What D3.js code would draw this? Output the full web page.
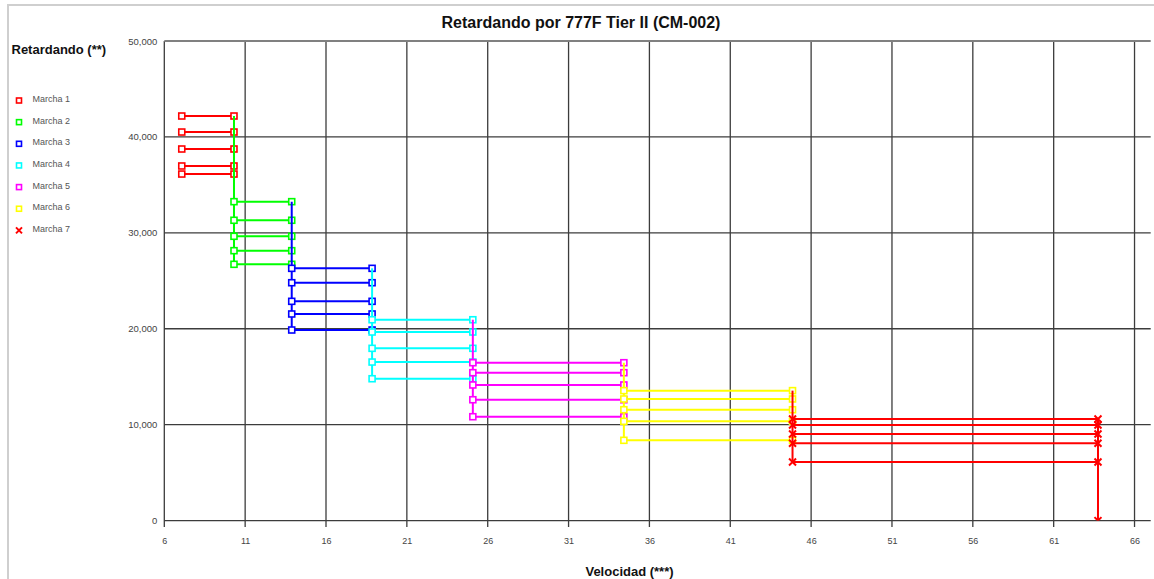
<!DOCTYPE html>
<html>
<head>
<meta charset="utf-8">
<script src="https://cdn.jsdelivr.net/npm/d3@7"></script>
<style>
  html, body { margin: 0; padding: 0; background: #fff; }
  svg { display: block; font-family: "Liberation Sans", Arial, sans-serif; }
</style>
</head>
<body>
<svg id="chart" width="1154" height="579"></svg>
<script>
// Gear names and their colours
const gearNames = ["Marcha 1", "Marcha 2", "Marcha 3", "Marcha 4", "Marcha 5", "Marcha 6", "Marcha 7"];
const gearColors = ["#ff0000", "#00ff00", "#0000ff", "#00ffff", "#ff00ff", "#ffff00", "#ff0000"];
const gearMarkers = ["square", "square", "square", "square", "square", "square", "cross"];

// Speed range covered by each gear (km/h)
const speedStart = [7.08, 10.31, 13.88, 18.85, 25.08, 34.42, 44.85];
const speedEnd   = [10.31, 13.88, 18.85, 25.08, 34.42, 44.85, 63.74];

// Retarding force levels for each gear (kg)
const marcha1 = [42180, 40510, 38740, 36970, 36130];
const marcha2 = [33250, 31310, 29640, 28140, 26720];
const marcha3 = [26300, 24800, 22860, 21540, 19870];
const marcha4 = [20940, 19660, 17960, 16530, 14790];
const marcha5 = [16460, 15420, 14140, 12600, 10830];
const marcha6 = [13550, 12680, 11560, 10350, 8370];
const marcha7 = [10590, 9970, 9030, 8060, 6110];
const finalDrop = 0; // last gear falls to zero at top speed

// Axis ticks
const xTicks = [6, 11, 16, 21, 26, 31, 36, 41, 46, 51, 56, 61, 66];
const yTicks = [0, 10000, 20000, 30000, 40000, 50000];

const levels = [marcha1, marcha2, marcha3, marcha4, marcha5, marcha6, marcha7];

const svg = d3.select("#chart");

// frame of the chart
svg.append("path")
  .attr("d", "M8,579 L8,5 L1154,5")
  .attr("fill", "none")
  .attr("stroke", "#cfcfcf")
  .attr("stroke-width", 2);

const x = d3.scaleLinear().domain([6, 67]).range([164.3, 1150.7]);
const y = d3.scaleLinear().domain([0, 50000]).range([520.6, 41]);

// grid
const grid = svg.append("g").attr("stroke", "#3c3c3c").attr("stroke-width", 1.3);
grid.selectAll("line.v").data(xTicks).join("line")
  .attr("class", "v")
  .attr("x1", d => x(d)).attr("x2", d => x(d))
  .attr("y1", y(50000)).attr("y2", y(0) + 6.5);
grid.selectAll("line.h").data(yTicks).join("line")
  .attr("class", "h")
  .attr("x1", x(6)).attr("x2", x(67))
  .attr("y1", d => y(d)).attr("y2", d => y(d))
  .attr("stroke", d => d === 50000 ? "#808080" : null)
  .attr("stroke-width", d => d === 50000 ? 2 : null);

// x axis labels
const xAxis = d3.axisBottom(x).tickValues(xTicks).tickSize(0).tickPadding(17).tickFormat(d3.format("d"));
const gx = svg.append("g").attr("transform", `translate(0,${y(0)})`).call(xAxis);
gx.select(".domain").remove();
gx.selectAll("text").attr("font-size", 9).attr("fill", "#444").attr("font-family", null);

// y axis labels
const yAxis = d3.axisLeft(y).tickValues(yTicks).tickSize(0).tickPadding(7).tickFormat(d3.format(","));
const gy = svg.append("g").attr("transform", `translate(${x(6)},0)`).call(yAxis);
gy.select(".domain").remove();
gy.selectAll("text").attr("font-size", 9.5).attr("fill", "#444").attr("font-family", null);

// titles
svg.append("text").attr("x", 581).attr("y", 28).attr("text-anchor", "middle")
  .attr("font-size", 16).attr("font-weight", "bold").attr("fill", "#111")
  .text("Retardando por 777F Tier II (CM-002)");
svg.append("text").attr("x", 11.5).attr("y", 54)
  .attr("font-size", 13).attr("font-weight", "bold").attr("fill", "#111")
  .text("Retardando (**)");
svg.append("text").attr("x", 629.5).attr("y", 576).attr("text-anchor", "middle")
  .attr("font-size", 13).attr("font-weight", "bold").attr("fill", "#111")
  .text("Velocidad (***)");

// markers
function drawMarker(g, kind, cx, cy, color, size) {
  if (kind === "square") {
    g.append("rect")
      .attr("x", cx - size / 2).attr("y", cy - size / 2)
      .attr("width", size).attr("height", size)
      .attr("fill", "#fff").attr("stroke", color).attr("stroke-width", 1.6);
  } else {
    const h = size / 2;
    g.append("path")
      .attr("d", `M${cx - h},${cy - h}L${cx + h},${cy + h}M${cx - h},${cy + h}L${cx + h},${cy - h}`)
      .attr("stroke", color).attr("stroke-width", 2).attr("fill", "none");
  }
}

// series
svg.append("clipPath").attr("id", "plotClip")
  .append("rect").attr("x", x(6)).attr("y", y(50000) - 10)
  .attr("width", x(67) - x(6) + 5).attr("height", y(0) - y(50000) + 10);

const plot = svg.append("g").attr("clip-path", "url(#plotClip)");

levels.forEach((lv, i) => {
  const color = gearColors[i];
  const g = plot.append("g");
  const x0 = speedStart[i], x1 = speedEnd[i];
  const lineW = 2;
  // drop from previous gear's top level at the shift point
  if (i > 0) {
    g.append("line")
      .attr("x1", x(x0)).attr("x2", x(x0))
      .attr("y1", y(d3.max(levels[i - 1]))).attr("y2", y(d3.min(lv)))
      .attr("stroke", color).attr("stroke-width", lineW);
  }
  // last gear runs down to zero at its top speed
  if (i === levels.length - 1) {
    g.append("line")
      .attr("x1", x(x1)).attr("x2", x(x1))
      .attr("y1", y(d3.max(lv))).attr("y2", y(finalDrop))
      .attr("stroke", color).attr("stroke-width", lineW);
  }
  lv.forEach(v => {
    g.append("line")
      .attr("x1", x(x0)).attr("x2", x(x1))
      .attr("y1", y(v)).attr("y2", y(v))
      .attr("stroke", color).attr("stroke-width", lineW);
  });
  lv.forEach(v => {
    drawMarker(g, gearMarkers[i], x(x0), y(v), color, gearMarkers[i] === "square" ? 6 : 7);
    drawMarker(g, gearMarkers[i], x(x1), y(v), color, gearMarkers[i] === "square" ? 6 : 7);
  });
  if (i === levels.length - 1) {
    drawMarker(g, gearMarkers[i], x(x1), y(finalDrop), color, 7);
  }
});

// legend
const legend = svg.append("g");
gearNames.forEach((name, i) => {
  const cy = 100.5 + i * 21.65;
  drawMarker(legend, gearMarkers[i], 19, cy, gearColors[i], gearMarkers[i] === "square" ? 5 : 6);
  legend.append("text").attr("x", 32.5).attr("y", cy + 1.5)
    .attr("font-size", 9).attr("fill", "#555").text(name);
});
</script>
</body>
</html>
